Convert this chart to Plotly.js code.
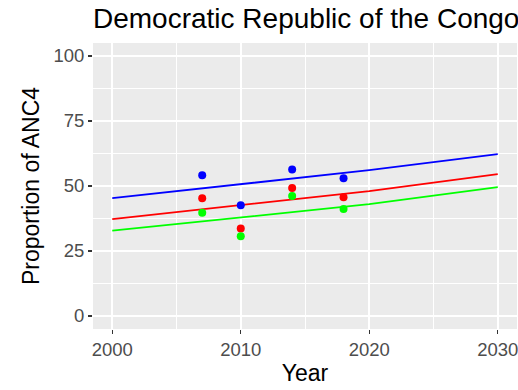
<!DOCTYPE html>
<html>
<head>
<meta charset="utf-8">
<script src="https://cdn.plot.ly/plotly-3.0.1.min.js"></script>
<style>html,body{margin:0;padding:0;background:#fff;}#chart{width:518px;height:390px;}</style>
</head>
<body>
<div id="chart"></div>
<script>
// Observed survey points
const surveyYears = [2007, 2010, 2014, 2018];
const blueValues  = [54.1, 42.6, 56.3, 53.0];
const redValues   = [45.3, 33.7, 49.2, 45.7];
const greenValues = [39.7, 30.7, 46.2, 41.2];

// Fitted trend lines
const fitYears = [2000, 2010, 2020, 2030];
const blueFit  = [45.3, 50.8, 56.1, 62.3];
const redFit   = [37.3, 42.6, 48.0, 54.6];
const greenFit = [32.8, 37.9, 43.0, 49.6];

const xTicks = [2000, 2010, 2020, 2030];
const yTicks = [0, 25, 50, 75, 100];

const font = "Liberation Sans, Arial, sans-serif";

function line(y, color) {
  return {x: fitYears, y: y, mode: 'lines', type: 'scatter',
          line: {color: color, width: 1.8}, hoverinfo: 'skip', showlegend: false};
}
function pts(y, color) {
  return {x: surveyYears, y: y, mode: 'markers', type: 'scatter',
          marker: {color: color, size: 8}, showlegend: false};
}

const data = [
  line(blueFit, '#0000FF'), line(redFit, '#FF0000'), line(greenFit, '#00FF00'),
  pts(blueValues, '#0000FF'), pts(redValues, '#FF0000'), pts(greenValues, '#00FF00')
];

const layout = {
  width: 518, height: 390,
  margin: {l: 93, r: 1, t: 43, b: 61},
  paper_bgcolor: '#FFFFFF',
  plot_bgcolor: '#EBEBEB',
  font: {family: font},
  title: {text: 'Democratic Republic of the Congo', font: {size: 28, color: '#000'},
          x: 93/518, xref: 'container', xanchor: 'left',
          y: 1 - 18/390, yref: 'container', yanchor: 'middle'},
  xaxis: {
    range: [1998.5, 2031.5], tickvals: xTicks, ticktext: xTicks.map(String),
    showgrid: true, gridcolor: '#FFFFFF', gridwidth: 2,
    minor: {dtick: 5, tick0: 2000, showgrid: true, gridcolor: '#FFFFFF', gridwidth: 1},
    zeroline: false, showline: false,
    ticks: 'outside', ticklen: 4, tickwidth: 1.2, tickcolor: '#333333',
    ticklabeloverflow: 'allow',
    tickfont: {size: 18.5, color: '#4D4D4D'},
    title: {text: 'Year', font: {size: 23, color: '#000'}, standoff: 5}
  },
  yaxis: {
    range: [-5, 105], tickvals: yTicks, ticktext: yTicks.map(String),
    showgrid: true, gridcolor: '#FFFFFF', gridwidth: 2,
    minor: {dtick: 12.5, tick0: 0, showgrid: true, gridcolor: '#FFFFFF', gridwidth: 1},
    zeroline: false, showline: false,
    ticks: 'outside', ticklen: 4, tickwidth: 1.2, tickcolor: '#333333',
    tickfont: {size: 18.5, color: '#4D4D4D'},
    title: {text: 'Proportion of ANC4', font: {size: 23, color: '#000'}, standoff: 7}
  }
};

Plotly.newPlot('chart', data, layout, {displayModeBar: false, staticPlot: true});
</script>
</body>
</html>
